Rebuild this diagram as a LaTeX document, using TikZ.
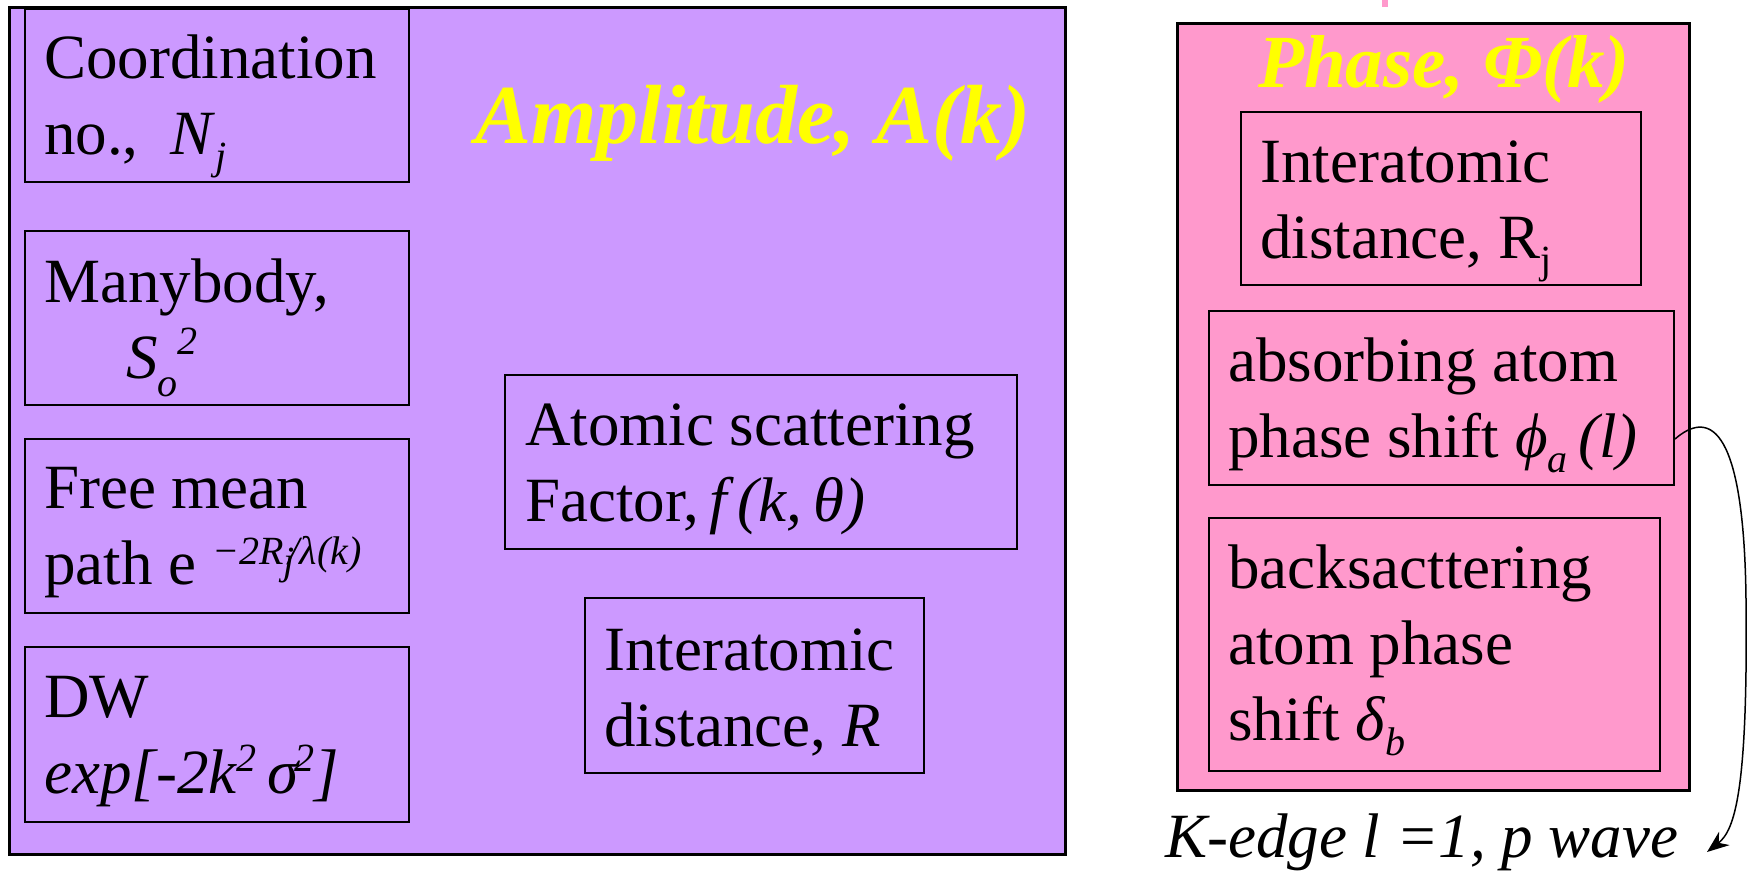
\documentclass[tikz,border=0pt]{standalone}
\usepackage{fontspec}
\setmainfont{Liberation Serif}
\usetikzlibrary{arrows.meta,calc}
\definecolor{purp}{HTML}{CC99FF}
\definecolor{pnk}{HTML}{FF99CC}
\definecolor{yel}{HTML}{FFFF00}
\newcommand{\ml}[1]{\begin{tabular}[t]{@{}l@{}}#1\end{tabular}}
\newcommand{\sps}[2][22pt]{\raisebox{#1}{\fontsize{40}{40}\selectfont #2}}
\newcommand{\sbs}[2][-15pt]{\raisebox{#1}{\fontsize{40}{40}\selectfont #2}}
\begin{document}
\begin{tikzpicture}[x=1pt,y=-1pt,
  outerbox/.style={draw=black,line width=3pt,inner sep=0pt,anchor=north west},
  ibox/.style={draw=black,line width=2pt,inner sep=0pt,anchor=north west},
  txt/.style={inner sep=0pt,anchor=base west,font=\fontsize{63}{76}\selectfont},
  ttl/.style={inner sep=0pt,text=yel,font=\fontsize{84}{90}\selectfont\bfseries\itshape}]
\useasboundingbox[fill=white] (0,0) rectangle (1750,872);
% pink tick at top
\fill[pnk] (1382,0) rectangle (1388,7);
% outer panels
\node[outerbox,fill=purp,minimum width=1056pt,minimum height=847pt] (amp) at (8,6) {};
\node[outerbox,fill=pnk,minimum width=512pt,minimum height=767pt] (pha) at (1176,22) {};
% titles
\node[ttl,anchor=base] (ampt) at (753,143) {Amplitude, A(k)};
\node[ttl,anchor=base west,font=\fontsize{75}{80}\selectfont\bfseries\itshape] (phat) at (1258,88) {Phase, Φ(k)};
% amplitude boxes
\node[ibox,minimum width=384pt,minimum height=173pt] (coord) at (24,8) {};
\node[txt] (coordt) at ($(coord.north west)+(20,71)$) {\ml{Coordination\\no.,\ \ \textit{N}\sbs{\textit{j}}}};
\node[ibox,minimum width=384pt,minimum height=174pt] (many) at (24,230) {};
\node[txt] (manyt) at ($(many.north west)+(20,72)$) {\ml{Manybody,\\\hspace*{82pt}\textit{S}\sbs[-18pt]{\textit{o}}\sps[24pt]{\textit{2}}}};
\node[ibox,minimum width=384pt,minimum height=174pt] (free) at (24,438) {};
\node[txt] (freet) at ($(free.north west)+(20,70)$) {\ml{Free mean\\path e\ \raisebox{20pt}{\fontsize{40}{40}\selectfont\itshape −2R\raisebox{-10pt}{j}\kern-6pt/λ(k)}}};
\node[ibox,minimum width=384pt,minimum height=175pt] (dw) at (24,646) {};
\node[txt] (dwt) at ($(dw.north west)+(20,71)$) {\ml{DW\\\textit{exp[-2k\sps{2}\,σ\kern-4pt\sps{2}]}}};
\node[ibox,minimum width=512pt,minimum height=174pt] (atom) at (504,374) {};
\node[txt] (atomt) at ($(atom.north west)+(21,71)$) {\ml{Atomic scattering\\Factor,\,\textit{f\,(k,\,θ)}}};
\node[ibox,minimum width=339pt,minimum height=175pt] (rdist) at (584,597) {};
\node[txt] (rdistt) at ($(rdist.north west)+(20,73)$) {\ml{Interatomic\\distance, \textit{R}}};
% phase boxes
\node[ibox,minimum width=400pt,minimum height=173pt] (rj) at (1240,111) {};
\node[txt] (rjt) at ($(rj.north west)+(20,71)$) {\ml{Interatomic\\distance, R\sbs{j}}};
\node[ibox,minimum width=465pt,minimum height=174pt] (abs) at (1208,310) {};
\node[txt] (abst) at ($(abs.north west)+(20,71)$) {\ml{absorbing atom\\phase shift \textit{ϕ\sbs{a}\,(l)}}};
\node[ibox,minimum width=451pt,minimum height=253pt] (back) at (1208,517) {};
\node[txt] (backt) at ($(back.north west)+(20,71)$) {\ml{backsacttering\\atom phase\\shift \textit{δ\sbs{b}}}};
% K-edge label and arrow
\node[txt,font=\fontsize{63}{76}\selectfont\itshape] (kedge) at (1165,857) {K-edge l =1, p wave};
\coordinate (kend) at (1707,852);
\draw[line width=1.5pt,-{Stealth[length=22pt,width=17pt]}]
  ($(abs.south east)+(0,-47)$) .. controls (1705,413) and (1744,415) .. (1746,600)
  .. controls (1748,790) and (1735,830) .. (kend);
\end{tikzpicture}
\end{document}
